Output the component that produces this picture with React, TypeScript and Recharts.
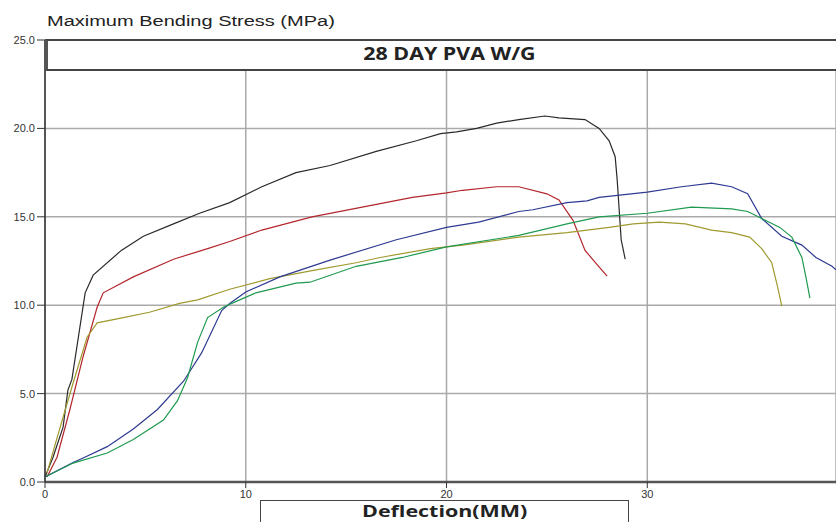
import React from 'react';
import { LineChart, Line, XAxis, YAxis, CartesianGrid } from 'recharts';

// deflection (mm) / max bending stress (MPa)
const blackX = [0, 0.4, 0.9, 1.14, 1.34, 2.0, 2.4, 3.8, 4.9, 6.4, 7.7, 9.2, 10.8, 12.5, 14.2, 16.5, 18.5, 19.7, 20.5, 21.5, 22.5, 23.6, 24.9, 25.6, 26.9, 27.6, 28.1, 28.4, 28.5, 28.6, 28.7, 28.9];
const blackY = [0.28, 1.4, 3.1, 5.2, 5.8, 10.7, 11.7, 13.1, 13.9, 14.6, 15.2, 15.8, 16.7, 17.5, 17.9, 18.7, 19.3, 19.7, 19.8, 20.0, 20.3, 20.5, 20.7, 20.6, 20.5, 20.0, 19.3, 18.4, 17.1, 15.4, 13.7, 12.6];

const redX = [0.1, 0.6, 1.24, 1.9, 2.6, 2.9, 4.4, 6.4, 8.1, 9.2, 10.8, 13.3, 15.8, 18.3, 20.0, 20.8, 22.5, 23.6, 25.0, 25.6, 26.3, 26.9, 27.5, 28.0];
const redY = [0.28, 1.4, 4.1, 7.1, 9.9, 10.7, 11.6, 12.6, 13.2, 13.6, 14.25, 15.0, 15.55, 16.1, 16.35, 16.5, 16.7, 16.7, 16.3, 15.95, 14.8, 13.1, 12.3, 11.65];

const oliveX = [0.1, 0.6, 1.4, 2.1, 2.6, 3.9, 5.2, 6.7, 7.6, 9.2, 11.2, 13.5, 15.5, 16.7, 19.2, 20.8, 23.6, 26.0, 28.1, 29.3, 30.6, 31.9, 33.2, 34.2, 35.1, 35.7, 36.2, 36.5, 36.7];
const oliveY = [0.5, 2.5, 5.6, 8.2, 9.0, 9.3, 9.6, 10.1, 10.3, 10.9, 11.5, 12.0, 12.4, 12.7, 13.2, 13.4, 13.85, 14.1, 14.4, 14.6, 14.7, 14.6, 14.25, 14.1, 13.85, 13.2, 12.4, 11.0, 9.95];

const blueX = [0, 1.4, 1.9, 3.1, 4.4, 5.6, 6.9, 7.8, 8.8, 9.2, 10.0, 11.7, 14.2, 17.5, 20.0, 21.6, 23.6, 24.3, 26.0, 27.0, 27.6, 30.0, 31.7, 33.2, 34.2, 35.0, 35.7, 36.7, 37.7, 38.4, 39.2, 39.4];
const blueY = [0.28, 1.1, 1.36, 2.0, 3.0, 4.1, 5.7, 7.3, 9.7, 10.1, 10.75, 11.6, 12.55, 13.7, 14.4, 14.7, 15.3, 15.4, 15.8, 15.9, 16.1, 16.4, 16.7, 16.9, 16.7, 16.3, 14.9, 13.9, 13.4, 12.7, 12.2, 12.0];

const greenX = [0, 1.4, 3.1, 4.4, 5.9, 6.6, 7.1, 7.6, 8.1, 8.9, 9.7, 10.5, 12.5, 13.2, 15.5, 17.8, 20.0, 23.6, 26.0, 27.6, 30.0, 32.2, 34.2, 35.0, 35.7, 36.6, 37.2, 37.7, 37.9, 38.1];
const greenY = [0.28, 1.07, 1.64, 2.4, 3.5, 4.6, 5.9, 7.9, 9.3, 9.9, 10.3, 10.7, 11.25, 11.3, 12.2, 12.7, 13.3, 13.95, 14.6, 15.0, 15.2, 15.55, 15.45, 15.3, 14.9, 14.4, 13.85, 12.7, 11.6, 10.4];

const xTicks = [0, 10, 20, 30];
const yTicks = [0, 5, 10, 15, 20, 25];

const toPoints = (xs: number[], ys: number[]) => xs.map((x, i) => ({ x, y: ys[i] }));

const series = [
  { id: 'black', color: '#2a2a2a', data: toPoints(blackX, blackY) },
  { id: 'red', color: '#b3262c', data: toPoints(redX, redY) },
  { id: 'olive', color: '#a09a30', data: toPoints(oliveX, oliveY) },
  { id: 'blue', color: '#2e3a92', data: toPoints(blueX, blueY) },
  { id: 'green', color: '#1f9a50', data: toPoints(greenX, greenY) },
];

const tickStyle = { fill: '#333', fontSize: 11, fontFamily: 'Liberation Sans, Arial, sans-serif' };

// the source picture is stretched sideways, so the labels are too
const stretched = (scale: number): React.CSSProperties => ({
  display: 'inline-block', transform: `scaleX(${scale})`, transformOrigin: 'center',
});

export default function App() {
  return (
    <div style={{ position: 'absolute', left: 0, top: 0, width: 836, height: 522, overflow: 'hidden', background: '#fff' }}>
      <LineChart width={836} height={522} margin={{ top: 40, right: 0, bottom: 10, left: 0 }}>
        <CartesianGrid stroke="#aaa" strokeWidth={1.5} />
        <XAxis
          type="number"
          dataKey="x"
          domain={[0, 39.4]}
          ticks={xTicks}
          allowDataOverflow
          height={30}
          tick={tickStyle}
          tickSize={6}
          axisLine={{ stroke: '#555', strokeWidth: 2.5 }}
          tickLine={{ stroke: '#333' }}
        />
        <YAxis
          type="number"
          dataKey="y"
          domain={[0, 25]}
          ticks={yTicks}
          width={45}
          tickFormatter={(v) => v.toFixed(1)}
          tick={tickStyle}
          tickSize={8}
          axisLine={{ stroke: '#333', strokeWidth: 1.5 }}
          tickLine={{ stroke: '#333' }}
        />
        {series.map((s) => (
          <Line
            key={s.id}
            data={s.data}
            dataKey="y"
            type="linear"
            stroke={s.color}
            strokeWidth={1.2}
            dot={false}
            isAnimationActive={false}
          />
        ))}
      </LineChart>
      <div style={{ position: 'absolute', left: 47, top: 12, width: 300, fontFamily: 'Liberation Sans, Arial, sans-serif', fontSize: 15.5, color: '#222', whiteSpace: 'nowrap' }}>
        <span style={{ ...stretched(1.29), transformOrigin: 'left' }}>Maximum Bending Stress (MPa)</span>
      </div>
      <div
        style={{
          position: 'absolute', left: 45, top: 39, width: 800, height: 28, background: '#fff',
          borderTop: '2px solid #444', borderBottom: '2px solid #444', borderLeft: '3px solid #555',
          boxSizing: 'content-box',
        }}
      >
        <div style={{ position: 'absolute', left: 0, width: 802, top: 1, textAlign: 'center', fontFamily: 'Open Sans, sans-serif', fontWeight: 700, fontSize: 17, color: '#222', whiteSpace: 'nowrap' }}>
          <span style={stretched(1.26)}>28 DAY PVA W/G</span>
        </div>
      </div>
      <div
        style={{
          position: 'absolute', left: 260, top: 500, width: 367, height: 21, borderTop: '1px solid #444',
          borderLeft: '1px solid #444', borderRight: '1px solid #444',
          textAlign: 'center', fontFamily: 'Open Sans, sans-serif', fontWeight: 700, fontSize: 16, color: '#222', lineHeight: '21px', whiteSpace: 'nowrap',
        }}
      >
        <span style={stretched(1.34)}>Deflection(MM)</span>
      </div>
    </div>
  );
}
